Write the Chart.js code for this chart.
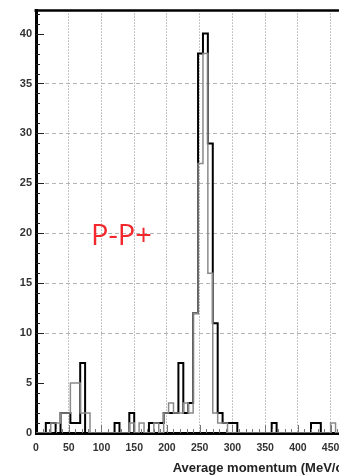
<!DOCTYPE html>
<html>
<head>
<meta charset="utf-8">
<script src="https://cdn.jsdelivr.net/npm/chart.js@4/dist/chart.umd.min.js"></script>
<style>
    html, body { margin: 0; padding: 0; background: #fff; overflow: hidden; }
    canvas { display: block; }
</style>
</head>
<body>
<canvas id="momentum-chart" width="350" height="476"></canvas>
<script>
// Histogram bins: 7.5 MeV wide, starting at 0
const binWidth = 7.5;

// Black histogram counts per bin
const blackCounts = [
    0, 0, 1, 1, 0, 2, 2, 1, 1, 7,
    0, 0, 0, 0, 0, 0, 1, 0, 0, 2,
    0, 0, 0, 1, 1, 1, 2, 2, 2, 7,
    2, 3, 12, 38, 40, 29, 11, 2, 1, 1,
    1, 0, 0, 0, 0, 0, 0, 0, 1, 0,
    0, 0, 0, 0, 0, 0, 1, 1, 0, 0,
    0, 0, 0, 0
];

// Gray histogram counts per bin
const grayCounts = [
    0, 0, 0, 1, 1, 2, 2, 5, 5, 2,
    2, 0, 0, 0, 0, 0, 0, 0, 0, 1,
    0, 1, 0, 0, 1, 0, 2, 3, 2, 2,
    3, 2, 12, 27, 38, 16, 2, 1, 1, 0,
    0, 0, 0, 0, 0, 0, 0, 0, 0, 0,
    0, 0, 0, 0, 0, 0, 0, 0, 0, 0,
    1, 0, 0, 0
];

const xTickStep = 50;
const yTickStep = 5;
const xTitle = 'Average momentum (MeV/c)';
const labelText = 'P-P+';

// turn bin counts into step points: a point at each bin edge
function toSteps(counts) {
    const pts = [{ x: 0, y: 0 }];
    counts.forEach((c, i) => {
        pts.push({ x: i * binWidth, y: c });
        pts.push({ x: (i + 1) * binWidth, y: c });
    });
    pts.push({ x: counts.length * binWidth, y: 0 });
    return pts;
}

// ROOT-like frame: top line, inner ticks, red label
const framePlugin = {
    id: 'frame',
    afterDraw(chart) {
        const ctx = chart.ctx;
        const area = chart.chartArea;
        const xs = chart.scales.x;
        const ys = chart.scales.y;
        ctx.save();
        ctx.strokeStyle = '#000';

        ctx.lineWidth = 2.5;
        ctx.beginPath();
        ctx.moveTo(area.left - 1.5, area.top);
        ctx.lineTo(area.right, area.top);
        ctx.stroke();

        ctx.lineWidth = 1;
        ctx.strokeStyle = '#222';
        for (let v = 1; v <= 42; v++) {
            const py = Math.round(ys.getPixelForValue(v)) + 0.5;
            const len = v % yTickStep === 0 ? 8 : 4;
            ctx.beginPath();
            ctx.moveTo(area.left, py);
            ctx.lineTo(area.left + len, py);
            ctx.stroke();
        }
        ctx.strokeStyle = '#777';
        for (let v = 10; v <= 470; v += 10) {
            const px = Math.round(xs.getPixelForValue(v)) + 0.5;
            const len = v % xTickStep === 0 ? 8 : 4;
            ctx.beginPath();
            ctx.moveTo(px, area.bottom);
            ctx.lineTo(px, area.bottom - len);
            ctx.stroke();
        }

        ctx.fillStyle = '#f2282c';
        ctx.font = '29px "Open Sans"';
        ctx.textBaseline = 'alphabetic';
        ctx.fillText(labelText, xs.getPixelForValue(84), ys.getPixelForValue(18.8));
        ctx.restore();
    }
};

document.addEventListener('DOMContentLoaded', () => {
    const lineStyle = {
        stepped: false,
        pointRadius: 0,
        fill: false,
        tension: 0
    };

    const momentumChart = new Chart(
        document.getElementById('momentum-chart'),
        {
            type: 'line',
            data: {
                datasets: [
                    {
                        ...lineStyle,
                        label: 'gray',
                        data: toSteps(grayCounts),
                        borderColor: '#8a8a8a',
                        borderWidth: 1.5
                    },
                    {
                        ...lineStyle,
                        label: 'black',
                        data: toSteps(blackCounts),
                        borderColor: '#000',
                        borderWidth: 2
                    }
                ]
            },
            options: {
                responsive: false,
                animation: false,
                layout: { padding: { top: 7, right: 3, left: 0, bottom: 0 } },
                plugins: {
                    legend: { display: false },
                    tooltip: { enabled: false }
                },
                scales: {
                    x: {
                        type: 'linear',
                        min: 0,
                        max: 475,
                        afterFit: (scale) => { scale.height = 43; },
                        border: { width: 3, color: '#000', dash: [1, 2] },
                        grid: {
                            drawTicks: false,
                            color: (c) => (c.tick && c.tick.value > 0 ? '#8c8c8c' : 'transparent'),
                            lineWidth: 1
                        },
                        ticks: {
                            stepSize: xTickStep,
                            includeBounds: false,
                            padding: 9,
                            color: '#333',
                            font: { family: 'Liberation Sans', size: 10.5, weight: 'bold' }
                        },
                        title: {
                            display: true,
                            text: xTitle,
                            align: 'end',
                            color: '#222',
                            padding: { top: 4, bottom: 0 },
                            font: { family: 'Liberation Sans', size: 13, weight: 'bold' }
                        }
                    },
                    y: {
                        min: 0,
                        max: 42.3,
                        afterFit: (scale) => { scale.width = 36; },
                        border: { width: 3, color: '#000', dash: [4, 3] },
                        grid: {
                            drawTicks: false,
                            color: (c) => {
                                const v = c.tick ? c.tick.value : 0;
                                return v >= 10 && v <= 35 ? '#b4b4b4' : 'transparent';
                            },
                            lineWidth: 1
                        },
                        ticks: {
                            stepSize: yTickStep,
                            includeBounds: false,
                            padding: 4,
                            color: '#333',
                            font: { family: 'Liberation Sans', size: 11, weight: 'bold' }
                        }
                    }
                }
            },
            plugins: [framePlugin]
        }
    );
});
</script>
</body>
</html>
